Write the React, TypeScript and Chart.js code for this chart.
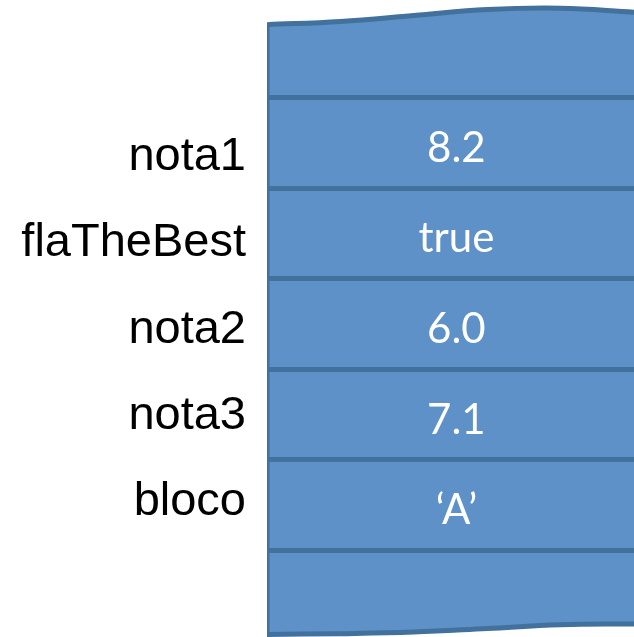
import { useEffect, useRef } from "react";
import { Chart, registerables } from "chart.js";

Chart.register(...registerables);

// Variable names (left labels) and the values stored in each memory cell
const variableNames = ["nota1", "flaTheBest", "nota2", "nota3", "bloco"];
const variableValues = ["8.2", "true", "6.0", "7.1", "\u2018A\u2019"];
// Row boundaries (dividers between memory cells)
const dividerRows = [1, 2, 3, 4, 5, 6];
// Wavy top / bottom edges of the memory block (x as fraction of width, y in row units)
const edgeXs = [0, 0.2, 0.4, 0.6, 0.8, 1];
const topEdgeRows = [0.196, 0.16, 0.096, 0.03, 0.015, 0.058];
const bottomEdgeRows = [6.927, 6.918, 6.9, 6.861, 6.82, 6.811];

const FILL = "#5D91C7";
const EDGE = "#41719C";
const EDGE_W = 5;
const VALUE_X = 0.516;

const valuesPlugin = {
  id: "cellValues",
  afterDraw(chart: any) {
    const { ctx, scales } = chart;
    const xs = scales.x;
    const ys = scales.y;
    ctx.save();
    ctx.fillStyle = "#ffffff";
    ctx.font = "42px Lato, 'Open Sans', sans-serif";
    ctx.textAlign = "center";
    ctx.textBaseline = "alphabetic";
    variableValues.forEach((v, i) => {
      const yc = ys.getPixelForValue(dividerRows[i] + 0.5);
      ctx.fillText(v, xs.getPixelForValue(VALUE_X), yc + 19);
    });
    ctx.restore();
  },
};

export default function App() {
  const ref = useRef<HTMLCanvasElement | null>(null);

  useEffect(() => {
    if (!ref.current) return;
    const chart = new Chart(ref.current, {
      type: "line",
      data: {
        datasets: [
          {
            label: "top",
            data: edgeXs.map((x, i) => ({ x, y: topEdgeRows[i] })),
            borderColor: EDGE,
            borderWidth: EDGE_W,
            backgroundColor: FILL,
            fill: "+1",
            tension: 0.4,
            pointRadius: 0,
            yAxisID: "y",
          },
          {
            label: "bottom",
            data: edgeXs.map((x, i) => ({ x, y: bottomEdgeRows[i] })),
            borderColor: EDGE,
            borderWidth: EDGE_W,
            fill: false,
            tension: 0.4,
            pointRadius: 0,
            yAxisID: "y",
          },
          {
            label: "left",
            data: [
              { x: 0, y: topEdgeRows[0] },
              { x: 0, y: bottomEdgeRows[0] },
            ],
            borderColor: EDGE,
            borderWidth: EDGE_W,
            fill: false,
            pointRadius: 0,
            yAxisID: "y",
          },
        ],
      },
      options: {
        responsive: false,
        animation: false,
        layout: { padding: 0 },
        plugins: {
          legend: { display: false },
          tooltip: { enabled: false },
          filler: { drawTime: "beforeDatasetsDraw" },
        } as any,
        scales: {
          x: {
            type: "linear",
            min: 0,
            max: 1,
            display: false,
          },
          y: {
            type: "linear",
            position: "left",
            reverse: true,
            min: -0.076,
            max: 6.955,
            afterBuildTicks: (axis: any) => {
              axis.ticks = dividerRows.map((v) => ({ value: v }));
            },
            afterFit: (axis: any) => {
              axis.width = 0;
              axis.paddingTop = 0;
              axis.paddingBottom = 0;
            },
            ticks: { display: false },
            border: { display: false },
            grid: {
              color: EDGE,
              lineWidth: EDGE_W,
              drawTicks: false,
              z: 1,
            },
          },
          yl: {
            type: "linear",
            position: "left",
            reverse: true,
            min: -1.821,
            max: 5.564,
            afterBuildTicks: (axis: any) => {
              axis.ticks = variableNames.map((_, i) => ({ value: i }));
            },
            afterFit: (axis: any) => {
              axis.width = 267;
              axis.paddingTop = 0;
              axis.paddingBottom = 0;
            },
            ticks: {
              autoSkip: false,
              padding: 13,
              color: "#000000",
              font: { family: "'Liberation Sans', Arial, sans-serif", size: 47 },
              callback: (v: any) => variableNames[Number(v)] ?? "",
            },
            border: { display: false },
            grid: { display: false },
          },
        },
      } as any,
      plugins: [valuesPlugin],
    });
    return () => chart.destroy();
  }, []);

  return (
    <div style={{ position: "absolute", left: 0, top: 0, width: 634, height: 637, background: "#fff" }}>
      <canvas ref={ref} width={634} height={637} style={{ display: "block" }} />
    </div>
  );
}
